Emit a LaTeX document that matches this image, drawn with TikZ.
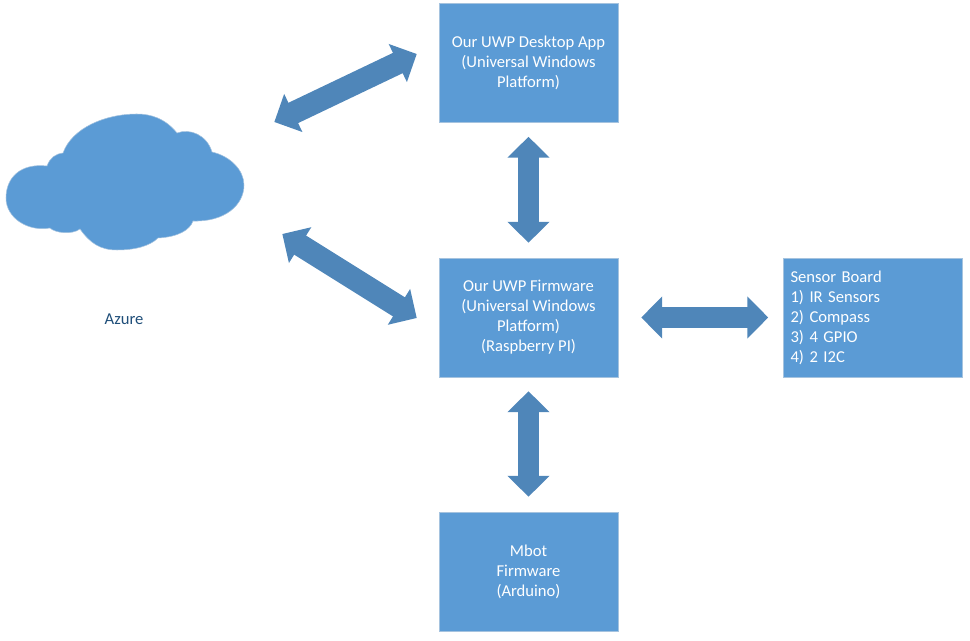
\documentclass[tikz,border=0pt]{standalone}
\usepackage{fontspec}
\setmainfont{Carlito}
\usetikzlibrary{arrows.meta,calc}
\definecolor{boxblue}{HTML}{5B9BD5}
\definecolor{arrowblue}{HTML}{4F86B9}
\definecolor{edgeblue}{HTML}{A5C3DF}
\definecolor{azuretext}{HTML}{1F4E79}
\tikzset{
    bluebox/.style={draw=edgeblue, line width=0.3pt, fill=boxblue, text=white, align=center, inner sep=0pt, minimum width=3.58cm, minimum height=2.38cm, font=\fontsize{9.45}{11.4}\selectfont},
    bigarrow/.style={{Triangle[length=0.42cm, width=0.82cm]}-{Triangle[length=0.42cm, width=0.82cm]}, draw=arrowblue, line width=0.41cm}
}
\begin{document}
\begin{tikzpicture}[x=0.02cm, y=-0.02cm]
    \useasboundingbox (0, 0) rectangle (970, 641);
    % Cloud
    \node[minimum width=4.8cm, minimum height=2.72cm, inner sep=0pt] (cloud) at (125, 182) {};
    \fill[boxblue, draw=edgeblue, line width=0.3pt] (47, 166) .. controls (20, 163) and (6, 178) .. (6, 198)
        .. controls (6, 218) and (28, 232) .. (50, 228)
        .. controls (55, 233) and (72, 235) .. (80, 229)
        .. controls (90, 243) and (100, 250) .. (117, 250)
        .. controls (135, 250) and (150, 246) .. (158, 238)
        .. controls (178, 237) and (190, 230) .. (193, 221)
        .. controls (225, 222) and (244, 205) .. (244, 185)
        .. controls (244, 170) and (230, 156) .. (212, 152)
        .. controls (207, 135) and (190, 128) .. (177, 133)
        .. controls (165, 118) and (150, 114) .. (137, 114)
        .. controls (105, 114) and (72, 128) .. (63, 153)
        .. controls (55, 154) and (50, 158) .. (47, 166) -- cycle;
    \node[text=azuretext, font=\fontsize{9.45}{11.4}\selectfont] (azure) at (124, 319) {Azure};

    % Boxes
    \node[bluebox] (desktop) at (528.5, 63) {Our UWP Desktop App\\(Universal Windows\\Platform)};
    \node[bluebox] (firmware) at (528.5, 317.5) {Our UWP Firmware\\(Universal Windows\\Platform)\\(Raspberry PI)};
    \node[bluebox] (mbot) at (528.5, 571.5) {Mbot\\Firmware\\(Arduino)};
    \node[bluebox, align=left, text width=3.3cm] (sensor) at (873, 317.5) {Sensor Board\\1) IR Sensors\\2) Compass\\3) 4 GPIO\\4) 2 I2C};

    % Arrows
    \draw[bigarrow, shorten <=0.28cm, shorten >=0.3cm] (desktop) -- (firmware);
    \draw[bigarrow, shorten <=0.28cm, shorten >=0.3cm] (firmware) -- (mbot);
    \draw[bigarrow, shorten <=0.46cm, shorten >=0.3cm] (firmware) -- (sensor);
    \draw[bigarrow, line width=0.45cm] ($(cloud.east)+(29, -60)$) -- ($(desktop.west)+(-22, -9)$);
    \draw[bigarrow, line width=0.45cm] ($(cloud.east)+(37, 52)$) -- ($(firmware.west)+(-22, 0.5)$);
\end{tikzpicture}
\end{document}
